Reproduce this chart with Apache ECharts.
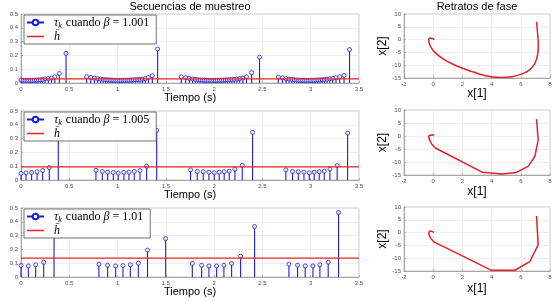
<!DOCTYPE html>
<html><head><meta charset="utf-8">
<script src="https://cdn.jsdelivr.net/npm/echarts@6/dist/echarts.min.js"></script>
<style>html,body{margin:0;padding:0;background:#fff}#c{width:558px;height:301px}</style>
</head><body><div id="c"></div>
<script>
// ---------- data ----------
const betas = ['1.001', '1.005', '1.01'];
const hbar = [0.03, 0.095, 0.137];

const seq1T = [0,0.022,0.042,0.061,0.080,0.099,0.118,0.138,0.158,0.179,0.201,0.224,0.250,0.283,0.316,0.350,0.397,0.466,
 0.680,0.722,0.760,0.794,0.824,0.851,0.876,0.899,0.921,0.942,0.962,0.981,1.000,1.019,1.038,1.057,1.077,1.097,1.118,1.139,1.161,1.184,1.208,1.233,1.258,1.286,1.318,1.360,1.415,
 1.660,1.705,1.743,1.776,1.805,1.831,1.855,1.877,1.898,1.918,1.938,1.957,1.976,1.995,2.014,2.033,2.053,2.073,2.094,2.115,2.137,2.160,2.184,2.209,2.236,2.265,2.297,2.335,2.388,2.470,
 2.664,2.707,2.744,2.776,2.804,2.830,2.854,2.876,2.897,2.917,2.937,2.956,2.975,2.994,3.013,3.033,3.053,3.074,3.096,3.119,3.143,3.169,3.197,3.228,3.262,3.300,3.345,3.402];
const seq1V = [0.022,0.020,0.019,0.019,0.019,0.019,0.020,0.020,0.021,0.022,0.023,0.026,0.030,0.033,0.036,0.045,0.069,0.215,
 0.045,0.040,0.035,0.031,0.028,0.026,0.024,0.023,0.022,0.021,0.020,0.019,0.019,0.019,0.019,0.020,0.020,0.021,0.021,0.022,0.023,0.024,0.025,0.026,0.028,0.031,0.040,0.053,0.246,
 0.045,0.038,0.033,0.029,0.026,0.024,0.022,0.021,0.020,0.020,0.019,0.019,0.019,0.019,0.019,0.020,0.020,0.021,0.021,0.022,0.023,0.024,0.025,0.027,0.029,0.032,0.036,0.045,0.075,0.187,
 0.043,0.037,0.032,0.028,0.026,0.024,0.022,0.021,0.020,0.020,0.019,0.019,0.019,0.019,0.020,0.020,0.021,0.022,0.023,0.024,0.026,0.028,0.031,0.034,0.038,0.045,0.055,0.242];

const seq2T = [0,0.052,0.110,0.166,0.224,0.293,0.386,
 0.776,0.842,0.897,0.956,1.007,1.066,1.118,1.173,1.232,1.301,1.405,
 1.756,1.825,1.887,1.946,2.001,2.053,2.104,2.156,2.215,2.291,2.398,
 2.743,2.812,2.871,2.930,2.985,3.036,3.088,3.140,3.199,3.274,3.382];
const seq2V = [0.048,0.052,0.055,0.060,0.069,0.090,0.390,
 0.071,0.062,0.057,0.055,0.050,0.055,0.057,0.062,0.069,0.100,0.360,
 0.074,0.062,0.060,0.057,0.052,0.057,0.060,0.064,0.079,0.107,0.345,
 0.074,0.062,0.060,0.057,0.052,0.057,0.060,0.064,0.079,0.105,0.340];

const seq3T = [0,0.076,0.152,0.235,0.342,
 0.807,0.897,0.980,1.056,1.132,1.215,1.310,1.498,
 1.774,1.870,1.946,2.026,2.101,2.181,2.274,2.419,
 2.774,2.864,2.943,3.023,3.095,3.181,3.288];
const seq3V = [0.083,0.080,0.088,0.107,0.465,
 0.093,0.085,0.080,0.083,0.088,0.100,0.195,0.278,
 0.098,0.085,0.080,0.080,0.085,0.098,0.151,0.366,
 0.093,0.085,0.080,0.080,0.088,0.107,0.468];

const phase1X = [7.08,7.15,7.2,7.15,6.95,6.55,6.0,5.4,4.7,4.0,3.2,2.3,1.5,0.7,0.15,-0.15,-0.28,-0.3,-0.2,-0.05,0.07];
const phase1Y = [6.9,2.5,-2,-6,-9.5,-12,-13.6,-14.5,-14.8,-14.5,-13.5,-11.8,-10.0,-7.6,-5.2,-3.0,-1.2,0.2,0.6,0.45,0.0];
const phase2X = [7.08,7.19,6.96,6.5,5.7,4.7,3.35,0.15,-0.12,-0.27,-0.3,-0.2,-0.05,0.05];
const phase2Y = [6.5,-1.5,-7.9,-11.7,-14.0,-14.6,-13.9,-4.6,-3.0,-1.2,0.1,0.6,0.5,0.1];
const phase3X = [7.08,7.19,6.62,5.6,4.0,0.05,-0.18,-0.3,-0.28,-0.12,0.05];
const phase3Y = [6.5,-4.8,-11.3,-14.7,-14.75,-3.6,-2.2,-0.6,0.4,0.6,0.1];

const timeTicks = [0, 3.5, 0.5];   // min, max, interval
const tauTicks = [0, 0.5, 0.1];
const x1Ticks = [-2, 8, 2];
const x2Ticks = [-15, 10, 5];

// ---------- layout ----------
const seqT = [seq1T, seq2T, seq3T];
const seqV = [seq1V, seq2V, seq3V];
const phX = [phase1X, phase2X, phase3X];
const phY = [phase1Y, phase2Y, phase3Y];
const leftTops = [14, 111, 208];
const rightTops = [14, 110, 207];
const rightH = [64, 65, 64];

const BLUE = '#1d1de0';
const RED = '#ee2020';
const SANS = 'Liberation Sans, Arial, sans-serif';
const SERIF = 'Liberation Serif, DejaVu Serif, serif';

const grids = [], xAxes = [], yAxes = [], series = [], legends = [];
const tickLbl = {fontSize: 6, color: '#4d4d4d', fontFamily: SANS, margin: 3};
const split = {show: true, lineStyle: {color: '#e4e4e4', width: 0.6}};
const axLine = {show: true, onZero: false, lineStyle: {color: '#8a8a8a', width: 0.7}};
const tick = {show: true, inside: true, length: 2, lineStyle: {color: '#8a8a8a', width: 0.6}};

const richStyles = {
  i: {fontFamily: SERIF, fontStyle: 'italic', fontSize: 12, color: '#000'},
  s: {fontFamily: SERIF, fontStyle: 'italic', fontSize: 8, color: '#000', padding: [7, 1, 0, 0]},
  r: {fontFamily: SERIF, fontSize: 12, color: '#000'}
};

// left panels: grid/axis index 0..2 ; right panels: 3..5
for (let p = 0; p < 3; p++) {
  grids[p] = {left: 21, top: leftTops[p], width: 338, height: 69, show: true, borderColor: '#b5b5b5', borderWidth: 0.7,
    containLabel: false, outerBoundsMode: 'none'};
  xAxes[p] = {gridIndex: p, type: 'value', min: timeTicks[0], max: timeTicks[1], interval: timeTicks[2],
    axisLabel: tickLbl, splitLine: split, axisLine: axLine, axisTick: tick,
    name: 'Tiempo (s)', nameLocation: 'middle', nameGap: 9,
    nameTextStyle: {fontSize: 11, fontFamily: SANS, color: '#000'}};
  yAxes[p] = {gridIndex: p, type: 'value', min: tauTicks[0], max: tauTicks[1], interval: tauTicks[2],
    axisLabel: tickLbl, splitLine: split, axisLine: axLine, axisTick: tick,
    name: '{i|τ}{s|k}', nameLocation: 'middle', nameGap: 8, nameRotate: 90,
    nameTextStyle: {rich: richStyles}};
  const pts = seqT[p].map((t, k) => [t, seqV[p][k]]);
  series.push({type: 'bar', name: 'stem' + p, xAxisIndex: p, yAxisIndex: p, data: pts, barWidth: 1.1,
    itemStyle: {color: BLUE}, silent: true});
  series.push({type: 'scatter', name: 'dot' + p, xAxisIndex: p, yAxisIndex: p, data: pts, symbol: 'circle', symbolSize: 4,
    itemStyle: {color: '#fff', borderColor: BLUE, borderWidth: 1}, z: 3});
  series.push({type: 'line', name: 'tau' + p, xAxisIndex: p, yAxisIndex: p, data: [], color: BLUE,
    symbol: 'emptyCircle', symbolSize: 4, lineStyle: {width: 1, color: BLUE}, itemStyle: {color: BLUE, borderColor: BLUE, borderWidth: 1}});
  series.push({type: 'line', name: 'hb' + p, xAxisIndex: p, yAxisIndex: p,
    data: [[timeTicks[0], hbar[p]], [timeTicks[1], hbar[p]]], color: RED,
    symbol: 'none', lineStyle: {width: 1.2, color: RED}, itemStyle: {color: RED}, z: 4});
  legends.push({data: ['tau' + p, {name: 'hb' + p, icon: 'path://M0,0H16V1.4H0Z', itemStyle: {color: RED}}],
    left: 24, top: leftTops[p] + 1, orient: 'vertical',
    backgroundColor: '#fff', borderColor: '#333', borderWidth: 0.7, padding: [1, 7, 1, 2],
    itemWidth: 17, itemHeight: 7, itemGap: 0, selectedMode: false, z: 10,
    textStyle: {rich: richStyles, lineHeight: 13, padding: [0, 0, 0, 5]},
    formatter: (n) => n.startsWith('tau')
      ? '{i|τ}{s|k}{r| cuando }{i|β}{r| = ' + betas[p] + '}'
      : '{i|h\u0304}'});

  const g = 3 + p;
  grids[g] = {left: 404, top: rightTops[p], width: 146, height: rightH[p], show: true, borderColor: '#b5b5b5', borderWidth: 0.7,
    containLabel: false, outerBoundsMode: 'none'};
  xAxes[g] = {gridIndex: g, type: 'value', min: x1Ticks[0], max: x1Ticks[1], interval: x1Ticks[2],
    axisLabel: tickLbl, splitLine: split, axisLine: axLine, axisTick: tick,
    name: 'x[1]', nameLocation: 'middle', nameGap: 10 + p,
    nameTextStyle: {fontSize: 12, fontFamily: SANS, color: '#000'}};
  yAxes[g] = {gridIndex: g, type: 'value', min: x2Ticks[0], max: x2Ticks[1], interval: x2Ticks[2],
    axisLabel: tickLbl, splitLine: split, axisLine: axLine, axisTick: tick,
    name: 'x[2]', nameLocation: 'middle', nameGap: 10,
    nameTextStyle: {fontSize: 12, fontFamily: SANS, color: '#000'}};
  series.push({type: 'line', name: 'ph' + p, xAxisIndex: g, yAxisIndex: g,
    data: phX[p].map((x, k) => [x, phY[p][k]]), symbol: 'none', smooth: p === 0 ? 0.3 : false,
    lineStyle: {color: '#e3202c', width: 1.5}});
}

const chart = echarts.init(document.getElementById('c'), null, {renderer: 'canvas'});
chart.setOption({
  animation: false,
  backgroundColor: '#fff',
  grid: grids, xAxis: xAxes, yAxis: yAxes, series: series, legend: legends,
  graphic: [
    {type: 'text', x: 190, y: 1, style: {text: 'Secuencias de muestreo', fontSize: 11, fontFamily: SANS, fill: '#000', textAlign: 'center'}},
    {type: 'text', x: 477, y: 1, style: {text: 'Retratos de fase', fontSize: 11, fontFamily: SANS, fill: '#000', textAlign: 'center'}}
  ]
});
</script></body></html>
